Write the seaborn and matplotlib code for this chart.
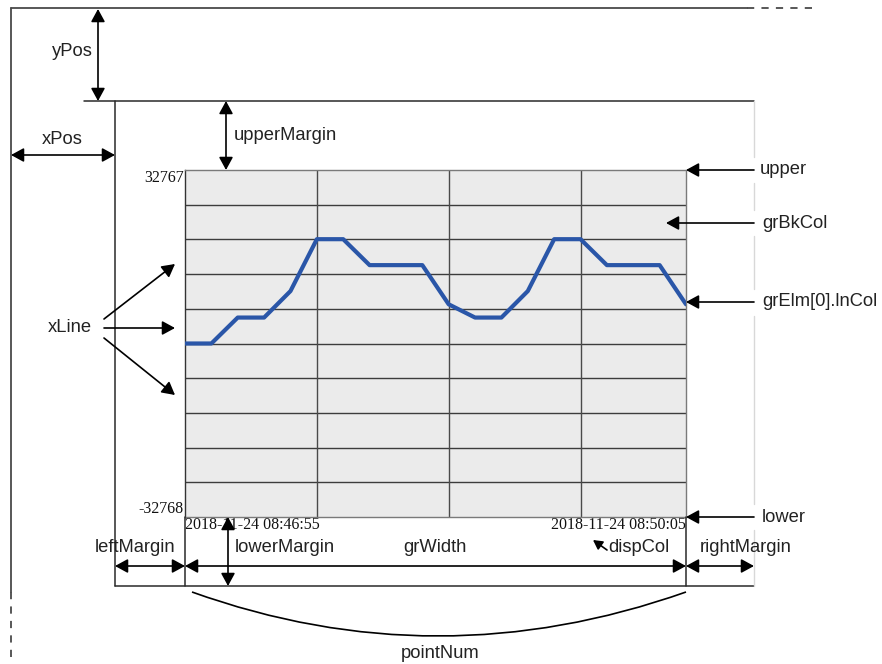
import matplotlib
matplotlib.use("Agg")
import matplotlib.pyplot as plt
import seaborn as sns
import pandas as pd
from matplotlib.patches import PathPatch
from matplotlib.path import Path

# ---- data ----
point_index = list(range(20))
values = [0, 0, 4900, 4900, 9900, 19700, 19700, 14800, 14800, 14800,
          7400, 4900, 4900, 9900, 19700, 19700, 14800, 14800, 14800, 7400]
y_min, y_max = -32768, 32767
y_tick_labels = ["32767", "-32768"]
x_tick_labels = ["2018-11-24 08:46:55", "2018-11-24 08:50:05"]
n_hlines = 10
vline_step = 5

sns.set_theme(style="white")
plt.rcParams["font.family"] = ["Liberation Sans", "DejaVu Sans"]

W, H, DPI = 882, 664, 100
fig = plt.figure(figsize=(W / DPI, H / DPI), dpi=DPI)
fig.patch.set_facecolor("white")

# ---- main chart axes ----
L, R, T, B = 185, 686, 170, 517
ax = fig.add_axes([L / W, 1 - B / H, (R - L) / W, (B - T) / H])
ax.set_facecolor("#ebebeb")
df = pd.DataFrame({"idx": point_index, "val": values})
ax.set_xlim(point_index[0], point_index[-1])
ax.set_ylim(y_min, y_max)
step = (y_max - y_min) / n_hlines
for k in range(1, n_hlines):
    ax.axhline(y_min + k * step, color="#3c3c3c", lw=1.0, zorder=1)
for xv in range(vline_step, point_index[-1], vline_step):
    ax.axvline(xv, color="#4a4a4a", lw=1.0, zorder=1)
sns.lineplot(data=df, x="idx", y="val", ax=ax, color="#2a56a8", linewidth=3.0, zorder=3)
ax.set_xlabel("")
ax.set_ylabel("")
for s in ax.spines.values():
    s.set_color("#7a7a7a")
    s.set_linewidth(1.0)
ax.spines["left"].set_color("#333333")

serif = ["Liberation Serif", "DejaVu Serif"]
ax.set_yticks([y_max, y_min])
ax.set_yticklabels(y_tick_labels, fontfamily=serif, fontsize=11.5)
ylbls = ax.get_yticklabels()
ylbls[0].set_va("top")
ylbls[1].set_va("bottom")
ax.set_xticks([point_index[0], point_index[-1]])
ax.set_xticklabels(x_tick_labels, fontfamily=serif, fontsize=11.5)
xlbls = ax.get_xticklabels()
xlbls[0].set_ha("left")
xlbls[1].set_ha("right")
ax.tick_params(axis="both", length=0, pad=1, colors="#111111")
ax.tick_params(axis="x", pad=0)

# ---- overlay axes in pixel coordinates ----
ov = fig.add_axes([0, 0, 1, 1], zorder=10)
ov.set_xlim(0, W)
ov.set_ylim(H, 0)
ov.axis("off")
ov.patch.set_alpha(0)

dark = "#2a2a2a"
outer = "#4a4a4a"
# outer frame
ov.plot([11, 11], [8, 592], color=outer, lw=1.3)
ov.plot([11, 11], [592, 660], color=outer, lw=1.3, ls=(0, (4, 4)))
ov.plot([11, 747], [8, 8], color=outer, lw=1.3)
ov.plot([747, 815], [8, 8], color=outer, lw=1.3, ls=(0, (4, 4)))
# inner frame
ov.plot([84, 754], [101, 101], color=dark, lw=1.1)
ov.plot([115, 115], [101, 586], color=dark, lw=1.1)
ov.plot([115, 754], [586, 586], color=dark, lw=1.1)
for y0, y1 in [(101, 157), (183, 210), (236, 289), (316, 504), (530, 586)]:
    ov.plot([754, 754], [y0, y1], color="#d8d8d8", lw=1.0)
ov.plot([185, 185], [517, 586], color=dark, lw=1.1)
ov.plot([686, 686], [517, 586], color=dark, lw=1.1)


def arrow(p_from, p_to, double=False, scale=14):
    style = "<|-|>" if double else "-|>"
    style += ",head_length=0.55,head_width=0.3"
    ov.annotate("", xy=p_to, xytext=p_from,
                arrowprops=dict(arrowstyle=style, color="black", lw=1.2,
                                shrinkA=0, shrinkB=0, mutation_scale=scale))


arrow((98, 9), (98, 101), double=True)
arrow((11, 155), (115, 155), double=True)
arrow((226, 101), (226, 170), double=True)
arrow((228, 517), (228, 586), double=True)
arrow((115, 566), (185, 566), double=True)
arrow((185, 566), (686, 566), double=True)
arrow((686, 566), (754, 566), double=True)
arrow((754, 170), (686, 170))
arrow((754, 223), (666, 223))
arrow((754, 302), (686, 302))
arrow((754, 517), (686, 517))
arrow((104, 319), (175, 264))
arrow((104, 328), (175, 328))
arrow((104, 338), (175, 395))
arrow((607, 550), (593, 540), scale=10)

# pointNum curve
curve = Path([(192, 592), (437, 680), (686, 592)], [Path.MOVETO, Path.CURVE3, Path.CURVE3])
ov.add_patch(PathPatch(curve, fill=False, color="black", lw=1.2))

fs = 13.2
txt = dict(fontsize=fs, color="#222222", va="center")
ov.text(72, 52, "yPos", ha="center", **txt)
ov.text(62, 139, "xPos", ha="center", **txt)
ov.text(234, 135, "upperMargin", ha="left", **txt)
ov.text(235, 548, "lowerMargin", ha="left", **txt)
ov.text(135, 548, "leftMargin", ha="center", **txt)
ov.text(435, 548, "grWidth", ha="center", **txt)
ov.text(608, 548, "dispCol", ha="left", **txt)
ov.text(746, 548, "rightMargin", ha="center", **txt)
ov.text(440, 653, "pointNum", ha="center", **txt)
ov.text(760, 170, "upper", ha="left", **txt)
ov.text(762, 223, "grBkCol", ha="left", **txt)
ov.text(762, 302, "grElm[0].lnCol", ha="left", **txt)
ov.text(762, 517, "lower", ha="left", **txt)
ov.text(70, 327, "xLine", ha="center", **txt)

fig.savefig("out.png", dpi=DPI, facecolor="white")
